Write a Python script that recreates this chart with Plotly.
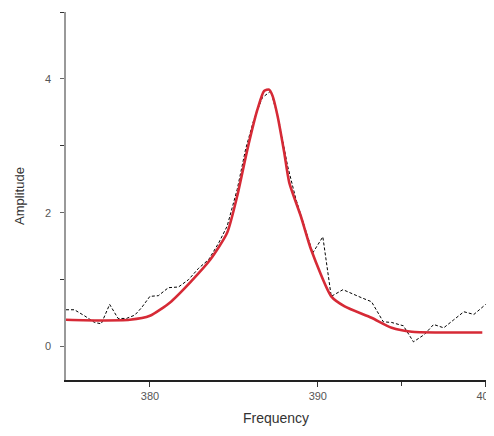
import plotly.graph_objects as go

# Measured spectrum (black dashed)
freq_data = [375.0, 375.5, 376.1, 376.7, 377.1, 377.6, 378.1, 378.6, 379.1, 379.5,
             380.0, 380.5, 381.1, 381.7, 382.3, 382.9, 383.5, 384.1, 384.6, 385.2,
             385.7, 386.2, 386.7, 387.2, 387.7, 388.2, 388.7, 389.2, 389.7, 390.3,
             390.8, 391.5, 392.1, 392.6, 393.2, 393.9, 394.4, 395.1, 395.7, 396.35,
             396.9, 397.5, 398.1, 398.7, 399.3, 400.0]
amp_data = [0.55, 0.55, 0.46, 0.36, 0.34, 0.63, 0.42, 0.42, 0.47, 0.58,
            0.75, 0.76, 0.88, 0.89, 1.00, 1.17, 1.30, 1.55, 1.80, 2.35,
            2.95, 3.40, 3.72, 3.82, 3.35, 2.70, 2.20, 1.80, 1.40, 1.64,
            0.75, 0.85, 0.78, 0.73, 0.67, 0.37, 0.36, 0.31, 0.07, 0.18,
            0.33, 0.28, 0.40, 0.52, 0.48, 0.63]

# Fitted curve (red)
freq_fit = [375.0, 377.0, 378.8, 380.0, 381.2, 382.4, 383.6, 384.6, 385.2, 385.8,
            386.4, 386.8, 387.1, 387.3, 387.6, 388.0, 388.3, 389.0, 389.6, 390.8,
            391.6, 393.2, 394.4, 395.6, 397.2, 399.8]
amp_fit = [0.40, 0.39, 0.40, 0.46, 0.66, 0.96, 1.30, 1.70, 2.25, 2.94,
           3.54, 3.82, 3.84, 3.75, 3.45, 2.90, 2.45, 1.94, 1.45, 0.75,
           0.60, 0.43, 0.28, 0.22, 0.21, 0.21]

x_ticks = [380, 390, 400]
x_minor = [395]
y_ticks = [0, 2, 4]
y_minor = [1, 3, 5]

fig = go.Figure()
fig.add_trace(go.Scatter(x=freq_data, y=amp_data, mode="lines",
                         line=dict(color="black", width=1, dash="3px,2px"),
                         showlegend=False, cliponaxis=False))
fig.add_trace(go.Scatter(x=freq_fit, y=amp_fit, mode="lines",
                         line=dict(color="#d62a36", width=2.6, shape="spline", smoothing=0.6),
                         showlegend=False))

font = "Liberation Sans, Arial, sans-serif"
fig.update_layout(
    width=486, height=428,
    margin=dict(l=58, r=8, t=4, b=56, autoexpand=False),
    paper_bgcolor="white", plot_bgcolor="white",
    font=dict(family=font, color="#444"),
    xaxis=dict(range=[375, 400.02], tickmode="array", tickvals=x_ticks,
               ticks="outside", ticklen=5, tickcolor="#333", showgrid=False,
               zeroline=False, showline=True, linecolor="#222", linewidth=1.5,
               tickfont=dict(size=11, color="#555"), ticklabeloverflow="allow",
               automargin=False,
               minor=dict(tickmode="array", tickvals=x_minor, ticks="outside", ticklen=4, tickcolor="#333"),
               title=dict(text="Frequency", font=dict(size=14, color="#333"), standoff=12)),
    yaxis=dict(range=[-0.5, 5], tickmode="array", tickvals=y_ticks,
               ticks="outside", ticklen=4, tickcolor="#666", showgrid=False,
               zeroline=False, showline=True, linecolor="#999", linewidth=1.5,
               tickfont=dict(size=11, color="#555"), ticklabelstandoff=7,
               automargin=False,
               minor=dict(tickmode="array", tickvals=y_minor, ticks="outside", ticklen=4, tickcolor="#333"),
               title=dict(text="Amplitude", font=dict(size=13, color="#333"), standoff=17)),
)
fig.write_html("out.html")
